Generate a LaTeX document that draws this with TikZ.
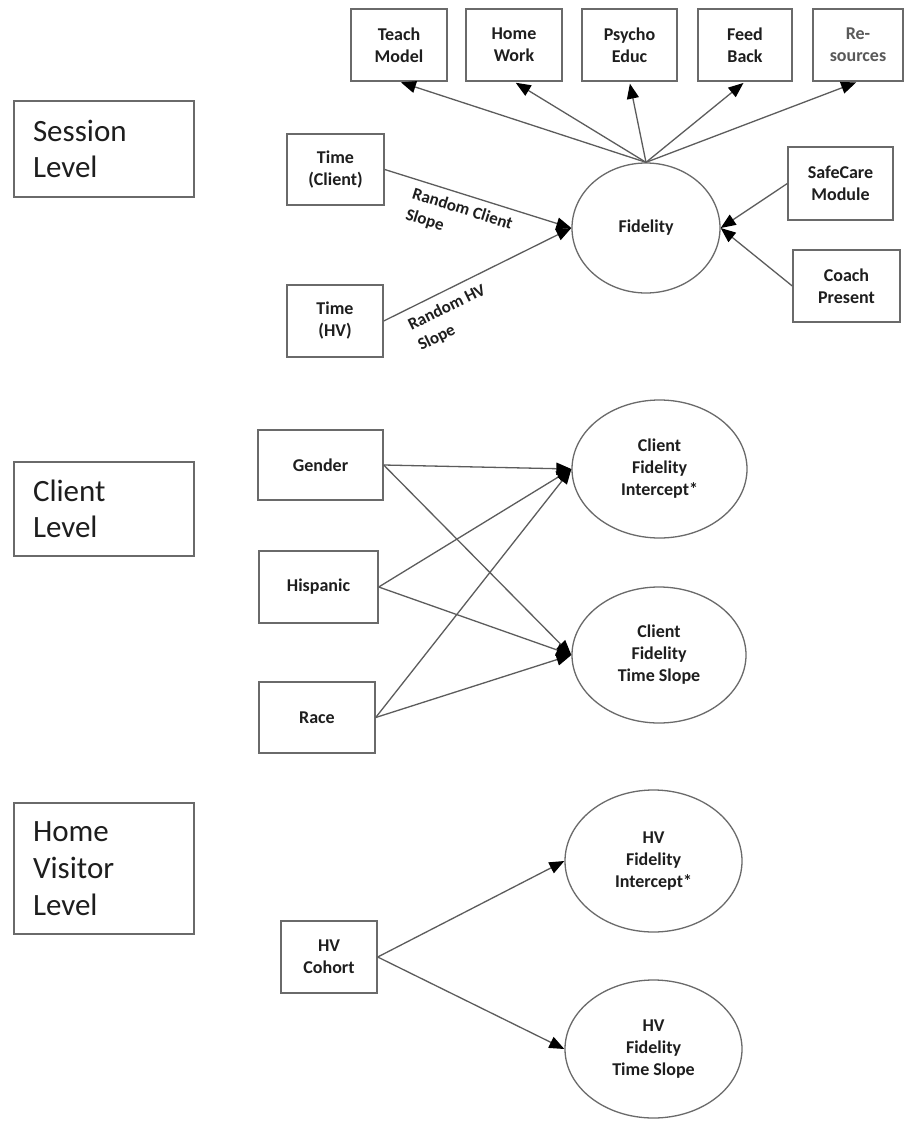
\documentclass[tikz,border=0pt]{standalone}
\usepackage{fontspec}
\setmainfont{Carlito}
\usetikzlibrary{shapes.geometric,arrows.meta}
\definecolor{boxgray}{HTML}{6A6A6A}
\definecolor{linegray}{HTML}{5C5C5C}
\definecolor{txt}{HTML}{1E1E1E}
\begin{document}
\begin{tikzpicture}[x=1pt,y=-1pt,
  lvl/.style={draw=boxgray, line width=1.5pt, text width=142pt, inner xsep=19pt,
    align=left, text=txt, font=\fontsize{31}{36}\selectfont},
  rbox/.style={draw=boxgray, line width=1.4pt, align=center, text=txt,
    font=\fontsize{18}{22}\selectfont\bfseries, inner sep=0pt},
  ell/.style={ellipse, draw=boxgray, line width=1.3pt, align=center, text=txt,
    font=\fontsize{18}{22}\selectfont\bfseries, inner sep=0pt},
  lbl/.style={align=left, text=txt, font=\fontsize{17}{22}\selectfont\bfseries, inner sep=0pt},
  arr/.style={draw=linegray, line width=1.3pt,
    -{Triangle[length=15pt,width=12pt,color=black]}}]
\fill[white] (0,0) rectangle (906,1125);
\useasboundingbox (0,0) rectangle (906,1125);

% level boxes
\node[lvl, minimum height=96] (session) at (104,149) {Session\\Level};
\node[lvl, minimum height=94] (client) at (104,509) {Client\\Level};
\node[lvl, minimum height=131, font=\fontsize{31}{37}\selectfont] (hvlevel) at (104,868.5) {Home\\Visitor\\Level};

% session level
\node[rbox, minimum width=96, minimum height=72] (teach) at (399,45) {Teach\\Model};
\node[rbox, minimum width=96, minimum height=72] (home) at (514,45) {Home\\Work};
\node[rbox, minimum width=95, minimum height=72] (psycho) at (629.5,45) {Psycho\\Educ};
\node[rbox, minimum width=94, minimum height=72] (feed) at (745,45) {Feed\\Back};
\node[rbox, minimum width=90, minimum height=72, text=black!65] (res) at (858,45) {Re-\\sources};

\node[ell, minimum width=148, minimum height=130] (fid) at (646,228) {Fidelity};

\node[rbox, minimum width=97, minimum height=71] (tclient) at (335.5,169.5) {Time\\(Client)};
\node[rbox, minimum width=96, minimum height=72] (thv) at (335,321) {Time\\(HV)};
\node[rbox, minimum width=105, minimum height=73] (safe) at (840.5,183.5) {SafeCare\\Module};
\node[rbox, minimum width=107, minimum height=72] (coach) at (846.5,286) {Coach\\Present};

\foreach \t in {teach,home,psycho,feed,res}
  \draw[arr, shorten >=2pt] (fid.north) -- (\t.south);
\draw[arr] (tclient.east) -- (fid.west);
\draw[arr] (thv.east) -- (fid.west);
\draw[arr] (safe.west) -- (fid.east);
\draw[arr] (coach.west) -- (fid.east);

\node[lbl, rotate=-17.5] (lab1) at (459,220) {Random Client\\Slope};
\node[lbl, rotate=26.4] (lab2) at (452,318) {Random HV\\Slope};

% client level
\node[rbox, minimum width=125, minimum height=70] (gender) at (320.5,465) {Gender};
\node[rbox, minimum width=119, minimum height=72] (hisp) at (318.5,587) {Hispanic};
\node[rbox, minimum width=116, minimum height=71] (race) at (317,717.5) {Race};

\node[ell, minimum width=175, minimum height=138] (cint) at (659.5,469) {Client\\Fidelity\\Intercept*};
\node[ell, minimum width=174, minimum height=136] (cslope) at (659,655) {Client\\Fidelity\\Time Slope};

\foreach \s in {gender,hisp,race}{
  \draw[arr] (\s.east) -- (cint.west);
  \draw[arr] (\s.east) -- (cslope.west);
}

% home visitor level
\node[rbox, minimum width=96, minimum height=72] (cohort) at (329,957) {HV\\Cohort};
\node[ell, minimum width=177, minimum height=142] (hint) at (653.5,861) {HV\\Fidelity\\Intercept*};
\node[ell, minimum width=177, minimum height=138] (hslope) at (653.5,1049) {HV\\Fidelity\\Time Slope};
\draw[arr] (cohort.east) -- (hint.west);
\draw[arr] (cohort.east) -- (hslope.west);
\end{tikzpicture}
\end{document}
